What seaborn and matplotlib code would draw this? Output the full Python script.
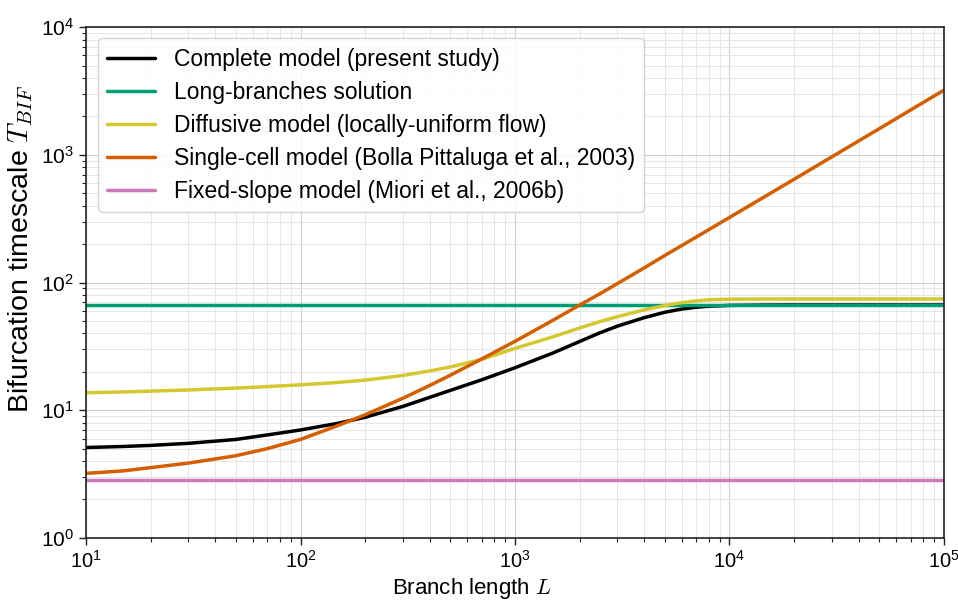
import numpy as np
import pandas as pd
import matplotlib
matplotlib.use('Agg')
import matplotlib.pyplot as plt
import seaborn as sns

# values (log-log axes)
L_vals = [10, 15, 20, 30, 50, 70, 100, 150, 200, 300, 400, 500, 700, 1000,
          1500, 2000, 2500, 3000, 4000, 5000, 6000, 7000, 8000, 10000,
          15000, 20000, 50000, 100000]
complete = [5.1, 5.2, 5.3, 5.5, 5.9, 6.4, 7.0, 7.9, 8.8, 10.7, 12.6, 14.3,
            17.3, 21.5, 28, 34.5, 40.5, 45.5, 53, 58.5, 62, 64, 65.2, 66.2,
            66.6, 66.7, 66.7, 66.7]
long_branch = [66.7] * len(L_vals)
diffusive = [13.7, 13.9, 14.1, 14.4, 14.9, 15.3, 15.8, 16.5, 17.2, 18.7,
             20.3, 21.8, 25, 30.5, 37.5, 44, 49.5, 54, 61, 66, 69.5, 71.8,
             73.2, 74.0, 74.3, 74.3, 74.3, 74.3]
single_cell = [3.2, 3.35, 3.55, 3.85, 4.4, 5.0, 5.9, 7.6, 9.2, 12.4, 15.6,
               18.8, 25.2, 34.6, 50.5, 66.5, 82, 98, 130, 163, 195, 227,
               259, 323, 483, 643, 1603, 3210]
fixed_slope = [2.85] * len(L_vals)

labels = ['Complete model (present study)',
          'Long-branches solution',
          'Diffusive model (locally-uniform flow)',
          'Single-cell model (Bolla Pittaluga et al., 2003)',
          'Fixed-slope model (Miori et al., 2006b)']
colors = ['#000000', '#029E73', '#D4C830', '#D55E00', '#CC78BC']

series = [complete, long_branch, diffusive, single_cell, fixed_slope]
df = pd.concat([pd.DataFrame({'L': L_vals, 'T': s, 'model': lab})
                for s, lab in zip(series, labels)], ignore_index=True)

sns.set_style('ticks')
plt.rcParams['font.family'] = ['Liberation Sans', 'DejaVu Sans']
plt.rcParams['mathtext.fontset'] = 'cm'
plt.rcParams['text.color'] = 'black'
plt.rcParams['axes.labelcolor'] = 'black'
plt.rcParams['xtick.color'] = '#222222'
plt.rcParams['ytick.color'] = '#222222'
plt.rcParams['xtick.labelcolor'] = 'black'
plt.rcParams['ytick.labelcolor'] = 'black'

fig = plt.figure(figsize=(9.58, 6.03), dpi=100)
ax = fig.add_axes([0.0898, 0.108, 0.8955, 0.847])

sns.lineplot(data=df, x='L', y='T', hue='model', hue_order=labels,
             palette=dict(zip(labels, colors)), linewidth=2.5, ax=ax)

ax.set_xscale('log')
ax.set_yscale('log')
ax.set_xlim(10, 1e5)
ax.set_ylim(1, 1e4)
ax.grid(True, which='major', color='#d0d0d0', linewidth=0.8)
ax.grid(True, which='minor', color='#e2e2e2', linewidth=0.6)
ax.set_axisbelow(True)
for sp in ax.spines.values():
    sp.set_color('#222222')
    sp.set_linewidth(1.2)
ax.tick_params(which='major', labelsize=15, length=5, width=1)
ax.tick_params(axis='x', which='major', labelsize=14.5)
ax.tick_params(which='minor', length=3, width=0.8)

ax.set_xlabel('Branch length $L$', fontsize=16)
ax.set_ylabel('Bifurcation timescale $T_{BIF}$', fontsize=20.5)
ax.xaxis.set_label_coords(0.45, -0.075)
ax.yaxis.set_label_coords(-0.059, 0.565)

leg = ax.legend(loc='upper left', fontsize=16.5, frameon=True, fancybox=True,
                handlelength=2.1, borderpad=0.4, labelspacing=0.44,
                borderaxespad=0, bbox_to_anchor=(0.014, 0.978))
leg.get_frame().set_edgecolor('#cccccc')
leg.get_frame().set_alpha(0.85)

fig.savefig('out.png', dpi=100)
